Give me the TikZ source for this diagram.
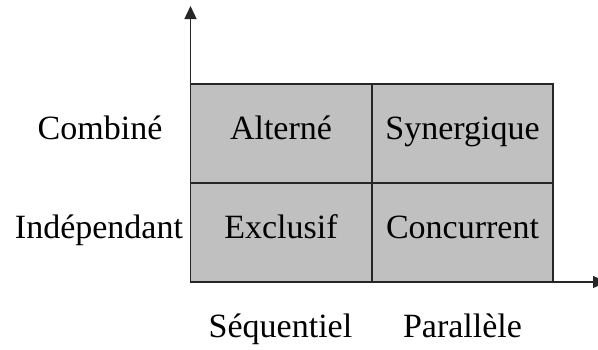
\documentclass[tikz,border=0pt]{standalone}
\usepackage{fontspec}
\setmainfont{Liberation Serif}
\usetikzlibrary{arrows.meta}
\definecolor{cellgray}{HTML}{C0C0C0}
\begin{document}
\begin{tikzpicture}[x=1pt,y=-1pt,
  lbl/.style={font=\fontsize{34}{36}\selectfont, anchor=base, inner sep=0pt},
  gridline/.style={line width=1.4pt, draw=black!85},
  axis/.style={line width=1.4pt, draw=black!85, -{Triangle[width=12pt,length=13pt]}}]
\useasboundingbox (0,0) rectangle (598,349);
\coordinate (O) at (190.5,282);
\coordinate (ytip) at (190.5,6);
\coordinate (xtip) at (606,282);
\fill[cellgray] (190.5,84) rectangle (553,282);
\draw[gridline] (190.5,84) rectangle (553,282);
\draw[gridline] (372,84) -- (372,282);
\draw[gridline] (190.5,183) -- (553,183);
\draw[axis] (O) -- (ytip);
\draw[axis] (O) -- (xtip);
\node[lbl] (comb) at (100,139.5) {Combiné};
\node[lbl] (indep) at (99,238.5) {Indépendant};
\node[lbl] (alt) at (281,139.5) {Alterné};
\node[lbl] (syn) at (462.5,139.5) {Synergique};
\node[lbl] (excl) at (281,238.5) {Exclusif};
\node[lbl] (conc) at (462.5,238.5) {Concurrent};
\node[lbl] (seq) at (280.5,337) {Séquentiel};
\node[lbl] (par) at (462.5,337) {Parallèle};
\end{tikzpicture}
\end{document}
